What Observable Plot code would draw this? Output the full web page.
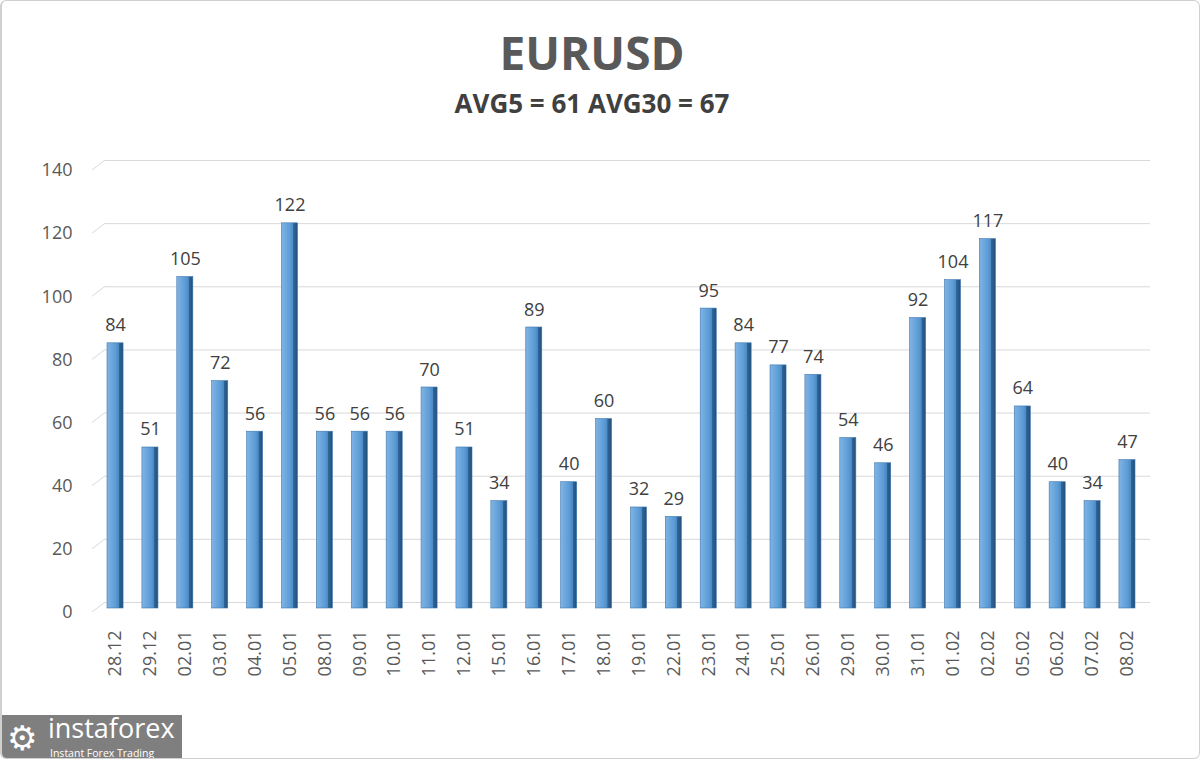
<!DOCTYPE html>
<html><head><meta charset="utf-8">
<script src="https://cdn.jsdelivr.net/npm/d3@7"></script>
<script src="https://cdn.jsdelivr.net/npm/@observablehq/plot@0.6"></script>
<style>
body{margin:0;background:#fff;font-family:"Open Sans",sans-serif;}
#wrap{position:relative;width:1197px;height:757px;border:1px solid #d0d0d0;border-left:2px solid #d0d0d0;border-radius:6px;overflow:hidden;background:#fff;}
#title{position:absolute;left:0;width:1180px;top:20px;text-align:center;font-size:46px;font-weight:700;color:#595959;}
#sub{position:absolute;left:0;width:1180px;top:84px;text-align:center;font-size:26px;font-weight:700;color:#404040;}
#chart{position:absolute;left:0;top:150px;}
#logo{position:absolute;left:0;top:714px;width:180px;height:46px;background:#7f7f7f;color:#fff;}
#logo .g{position:absolute;left:5px;top:0px;font-size:34px;line-height:46px;font-family:"DejaVu Sans";}
#logo .n{position:absolute;left:46px;top:-4px;font-size:27px;line-height:34px;font-family:"Open Sans";font-weight:400;}
#logo .s{position:absolute;left:48px;top:32px;font-size:10.5px;line-height:13px;font-family:"Open Sans";}
</style></head>
<body>
<div id="wrap">
<div id="title">EURUSD</div>
<div id="sub">AVG5 = 61 AVG30 = 67</div>
<div id="chart"></div>
<div id="logo"><span class="g">⚙</span><span class="n">instaforex</span><span class="s">Instant Forex Trading</span></div>
</div>
<script>
const dates = ["28.12","29.12","02.01","03.01","04.01","05.01","08.01","09.01","10.01","11.01","12.01","15.01","16.01","17.01","18.01","19.01","22.01","23.01","24.01","25.01","26.01","29.01","30.01","31.01","01.02","02.02","05.02","06.02","07.02","08.02"];
const values = [84,51,105,72,56,122,56,56,56,70,51,34,89,40,60,32,29,95,84,77,74,54,46,92,104,117,64,40,34,47];
const yTicks = [0,20,40,60,80,100,120,140];
const data = dates.map((d,i)=>({date:d, value:values[i]}));

const plot = Plot.plot({
  width: 1197, height: 547,
  marginTop: 15, marginBottom: 90, marginLeft: 90, marginRight: 49,
  style: {fontFamily: "Open Sans, sans-serif", background: "transparent"},
  x: {domain: dates, paddingInner: 0.54, paddingOuter: 0.43, round: false, label: null},
  y: {domain: [0,140], label: null},
  marks: [
    Plot.ruleY(yTicks, {stroke: "#d9d9d9", strokeWidth: 1, dy: -6, insetLeft: 13}),
    Plot.barY(data, {x: "date", y: "value", fill: "url(#bargrad)", stroke: "#3f77ad", strokeWidth: 0.6}),
    Plot.text(data, {x: "date", y: "value", text: d => String(d.value), lineAnchor: "bottom", dy: -12, fontSize: 18, fill: "#404040"}),
    Plot.axisY({ticks: yTicks, tickSize: 0, tickPadding: 20, dy: 4, fontSize: 18, color: "#595959", label: null}),
    Plot.axisX({tickSize: 0, tickRotate: -90, tickPadding: 22, fontSize: 18, color: "#595959", label: null})
  ]
});
const svg = d3.select(plot);
const defs = svg.insert("defs", ":first-child");
const g = defs.append("linearGradient").attr("id","bargrad").attr("x1","0").attr("x2","1").attr("y1","0").attr("y2","0");
g.append("stop").attr("offset","0%").attr("stop-color","#80b4e4");
g.append("stop").attr("offset","55%").attr("stop-color","#5b9bd5");
g.append("stop").attr("offset","74%").attr("stop-color","#4a88c4");
g.append("stop").attr("offset","75%").attr("stop-color","#2f6699");
g.append("stop").attr("offset","100%").attr("stop-color","#234f7a");
// perspective slants at left end of gridlines, positioned via the plot's y scale
const ys = plot.scale("y");
const slant = svg.append("g").attr("stroke","#d9d9d9").attr("stroke-width",1);
yTicks.forEach(v => {
  const py = ys.apply(v);
  slant.append("line").attr("x1", 90).attr("x2", 103).attr("y1", py + 4).attr("y2", py - 6);
});
document.getElementById("chart").appendChild(plot);
</script>
</body></html>
